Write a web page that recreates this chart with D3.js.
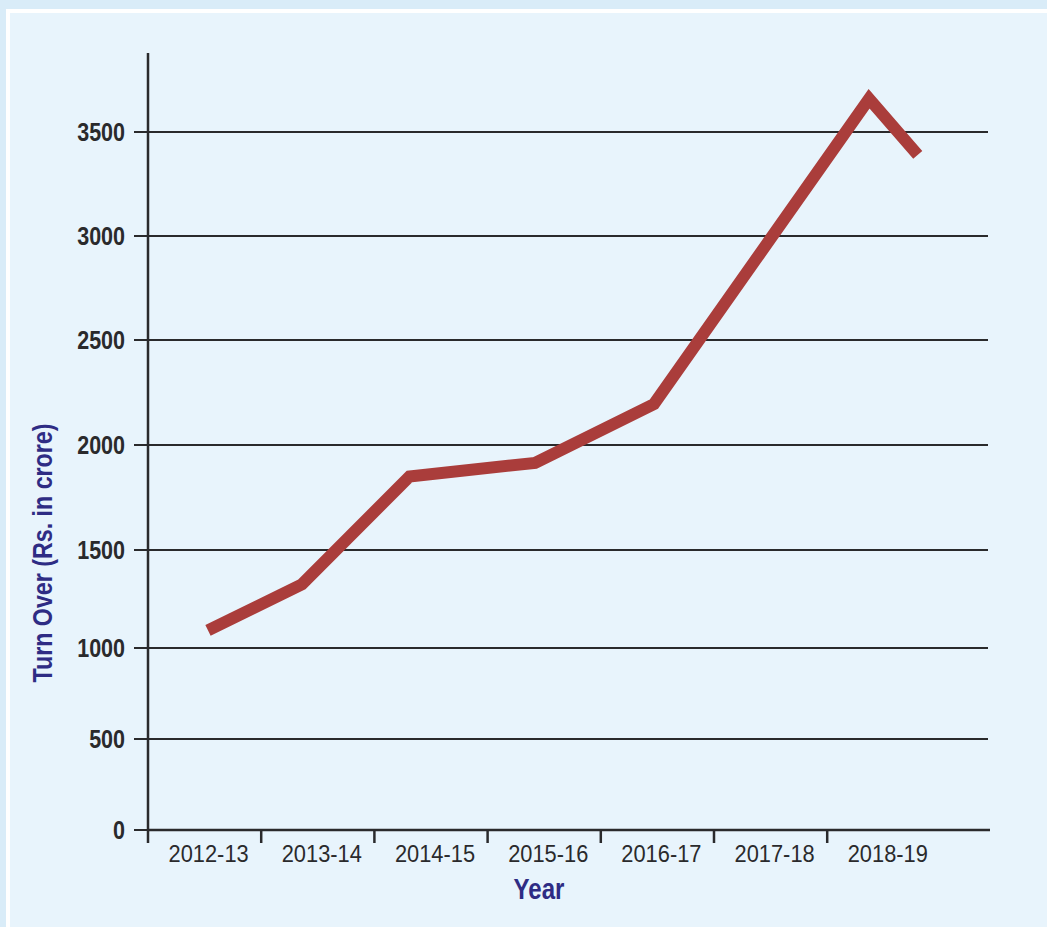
<!DOCTYPE html>
<html>
<head>
<meta charset="utf-8">
<script src="https://cdn.jsdelivr.net/npm/d3@7"></script>
<style>
	html, body { margin: 0; padding: 0; background: #d9ecf8; }
	svg { display: block; }
</style>
</head>
<body>
<script>
"use strict";

// years on the x axis
var years = ["2012-13", "2013-14", "2014-15", "2015-16", "2016-17", "2017-18", "2018-19"];
// turn over, Rs. in crore
var turnOver = [1090, 1325, 1850, 1915, 2195, 3660, 3390];
// where each point sits along the axis, in year units
var yearPos = [0.53, 1.36, 2.31, 3.42, 4.47, 6.37, 6.80];
// y ticks
var yTicks = [0, 500, 1000, 1500, 2000, 2500, 3000, 3500];

var W = 1047, H = 927;
var svg = d3.select("body").append("svg")
	.attr("width", W)
	.attr("height", H);

// frame
svg.append("rect")
	.attr("x", 6).attr("y", 9)
	.attr("width", W - 6).attr("height", H - 9)
	.style("fill", "#ffffff");
svg.append("rect")
	.attr("x", 10).attr("y", 13)
	.attr("width", W - 10).attr("height", H - 13)
	.style("fill", "#e8f4fc");

var x0 = 148, bw = 113.2;
var x = d3.scaleBand().domain(years).range([x0, x0 + bw * years.length]);
var xPos = d3.scaleLinear().domain([0, years.length]).range([x0, x0 + bw * years.length]);

// the printed grid is not evenly spaced, so the scale is piecewise
var y = d3.scaleLinear()
	.domain(yTicks)
	.range([830, 739, 648, 550, 445, 340, 236, 132]);

var axisColor = "#2a2a2c";
var gridRight = 988;
var font = "'Liberation Sans', Arial, sans-serif";

// grid lines + y ticks
var gy = svg.append("g").attr("class", "yGrid");
gy.selectAll("line").data(yTicks).enter().append("line")
	.attr("x1", 134).attr("x2", gridRight)
	.attr("y1", d => y(d)).attr("y2", d => y(d))
	.style("stroke", axisColor)
	.style("stroke-width", 2);

// condensed look: squeeze Liberation Sans horizontally
gy.selectAll("text").data(yTicks).enter().append("text")
	.attr("transform", d => `translate(125, ${y(d)}) scale(0.86, 1)`)
	.attr("dy", "0.36em")
	.style("text-anchor", "end")
	.style("font-family", font)
	.style("font-weight", "bold")
	.style("font-size", "25px")
	.style("fill", "#2a2a2c")
	.text(d => d);

// x axis line
svg.append("line")
	.attr("x1", x0).attr("x2", 990)
	.attr("y1", y(0)).attr("y2", y(0))
	.style("stroke", axisColor)
	.style("stroke-width", 2.5);

// y axis line
svg.append("line")
	.attr("x1", x0).attr("x2", x0)
	.attr("y1", y(3880)).attr("y2", y(0) + 13)
	.style("stroke", axisColor)
	.style("stroke-width", 2.5);

// x ticks at band starts
svg.append("g").selectAll("line").data(years.slice(1)).enter().append("line")
	.attr("x1", d => x(d)).attr("x2", d => x(d))
	.attr("y1", y(0)).attr("y2", y(0) + 13)
	.style("stroke", axisColor)
	.style("stroke-width", 2.5);

svg.append("g").selectAll("text").data(years).enter().append("text")
	.attr("transform", d => `translate(${x(d) + x.bandwidth() / 2 + 4}, ${y(0) + 32}) scale(0.95, 1)`)
	.style("text-anchor", "middle")
	.style("font-family", font)
	.style("font-size", "23px")
	.style("fill", "#2a2a2c")
	.text(d => d);

// axis titles
svg.append("text")
	.attr("transform", "translate(539, 899) scale(0.83, 1)")
	.style("text-anchor", "middle")
	.style("font-family", font)
	.style("font-weight", "bold")
	.style("font-size", "29px")
	.style("fill", "#2e2c84")
	.text("Year");

svg.append("text")
	.attr("transform", "translate(52, 553) rotate(-90) scale(0.83, 1)")
	.style("text-anchor", "middle")
	.style("font-family", font)
	.style("font-weight", "bold")
	.style("font-size", "28px")
	.style("fill", "#2e2c84")
	.text("Turn Over (Rs. in crore)");

// the series
var line = d3.line()
	.x((d, i) => xPos(yearPos[i]))
	.y(d => y(d));

svg.append("path")
	.datum(turnOver)
	.attr("d", line)
	.style("fill", "none")
	.style("stroke", "#aa3d3b")
	.style("stroke-width", 12)
	.style("stroke-linejoin", "miter")
	.style("stroke-linecap", "butt");
</script>
</body>
</html>
